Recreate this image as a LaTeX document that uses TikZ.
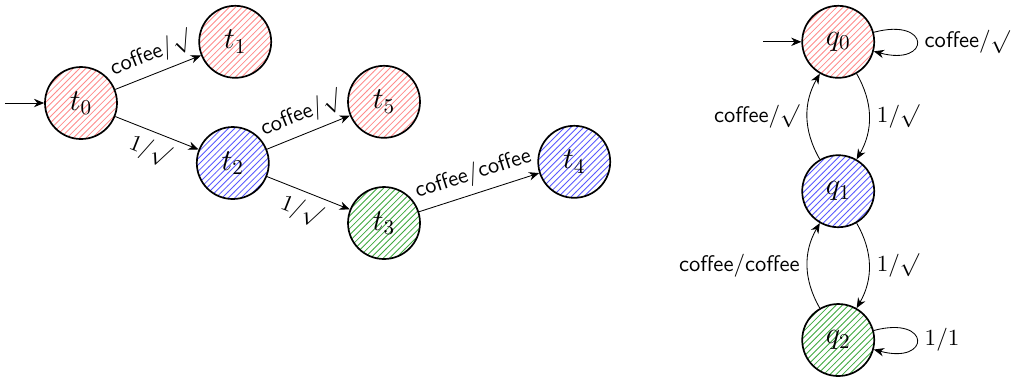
\documentclass[tikz,border=0pt]{standalone}
\usepackage{amsmath}
\usepackage{amssymb}
\usepackage{tikz}
\usepackage{xcolor}
\usetikzlibrary{patterns,arrows.meta}
\tikzset{
    auto-state/.style = {draw=black, circle, thick, minimum size=1.2cm, inner sep=0pt, font=\Large},
    red-state/.style = {auto-state, pattern=north east lines, pattern color=red!45},
    blue-state/.style = {auto-state, pattern=north east lines, pattern color=blue!65},
    green-state/.style = {auto-state, pattern=north east lines, pattern color=green!55!black!75},
    trans/.style = {-{Stealth[length=1.7mm, width=1.4mm]}, thin},
    trans-label/.style = {font=\fontsize{10.7}{13}\selectfont, inner sep=3.5pt},
}

\begin{document}
\begin{tikzpicture}
\useasboundingbox (0,0) rectangle (16.9,6.367);
% tree on the left
\node[red-state] (t0) at (1.35,4.65) {$t_0$};
\node[red-state] (t1) at (3.92,5.67) {$t_1$};
\node[blue-state] (t2) at (3.88,3.65) {$t_2$};
\node[red-state] (t5) at (6.40,4.67) {$t_5$};
\node[green-state] (t3) at (6.40,2.65) {$t_3$};
\node[blue-state] (t4) at (9.57,3.67) {$t_4$};
\coordinate (t0-in) at (0.08,4.65);

\draw[trans] (t0-in) -- (t0);
\draw[trans] (t0) -- node[trans-label, above, sloped] {$\textsf{coffee}/\surd$} (t1);
\draw[trans] (t0) -- node[trans-label, below, sloped] {$1/\surd$} (t2);
\draw[trans] (t2) -- node[trans-label, above, sloped] {$\textsf{coffee}/\surd$} (t5);
\draw[trans] (t2) -- node[trans-label, below, sloped] {$1/\surd$} (t3);
\draw[trans] (t3) -- node[trans-label, above, sloped] {$\textsf{coffee}/\textsf{coffee}$} (t4);

% automaton on the right
\node[red-state] (q0) at (13.97,5.67) {$q_0$};
\node[blue-state] (q1) at (13.97,3.18) {$q_1$};
\node[green-state] (q2) at (13.97,0.70) {$q_2$};
\coordinate (q0-in) at (12.72,5.67);

\draw[trans] (q0-in) -- (q0);
\draw[trans] (q0) edge[loop right, looseness=8, min distance=7.5mm] node[trans-label, right] {$\textsf{coffee}/\surd$} (q0);
\draw[trans] (q0) edge[bend left=30] node[trans-label, right] {$1/\surd$} (q1);
\draw[trans] (q1) edge[bend left=30] node[trans-label, left] {$\textsf{coffee}/\surd$} (q0);
\draw[trans] (q1) edge[bend left=30] node[trans-label, right] {$1/\surd$} (q2);
\draw[trans] (q2) edge[bend left=30] node[trans-label, left] {$\textsf{coffee}/\textsf{coffee}$} (q1);
\draw[trans] (q2) edge[loop right, looseness=8, min distance=7.5mm] node[trans-label, right] {$1/1$} (q2);
\end{tikzpicture}
\end{document}
